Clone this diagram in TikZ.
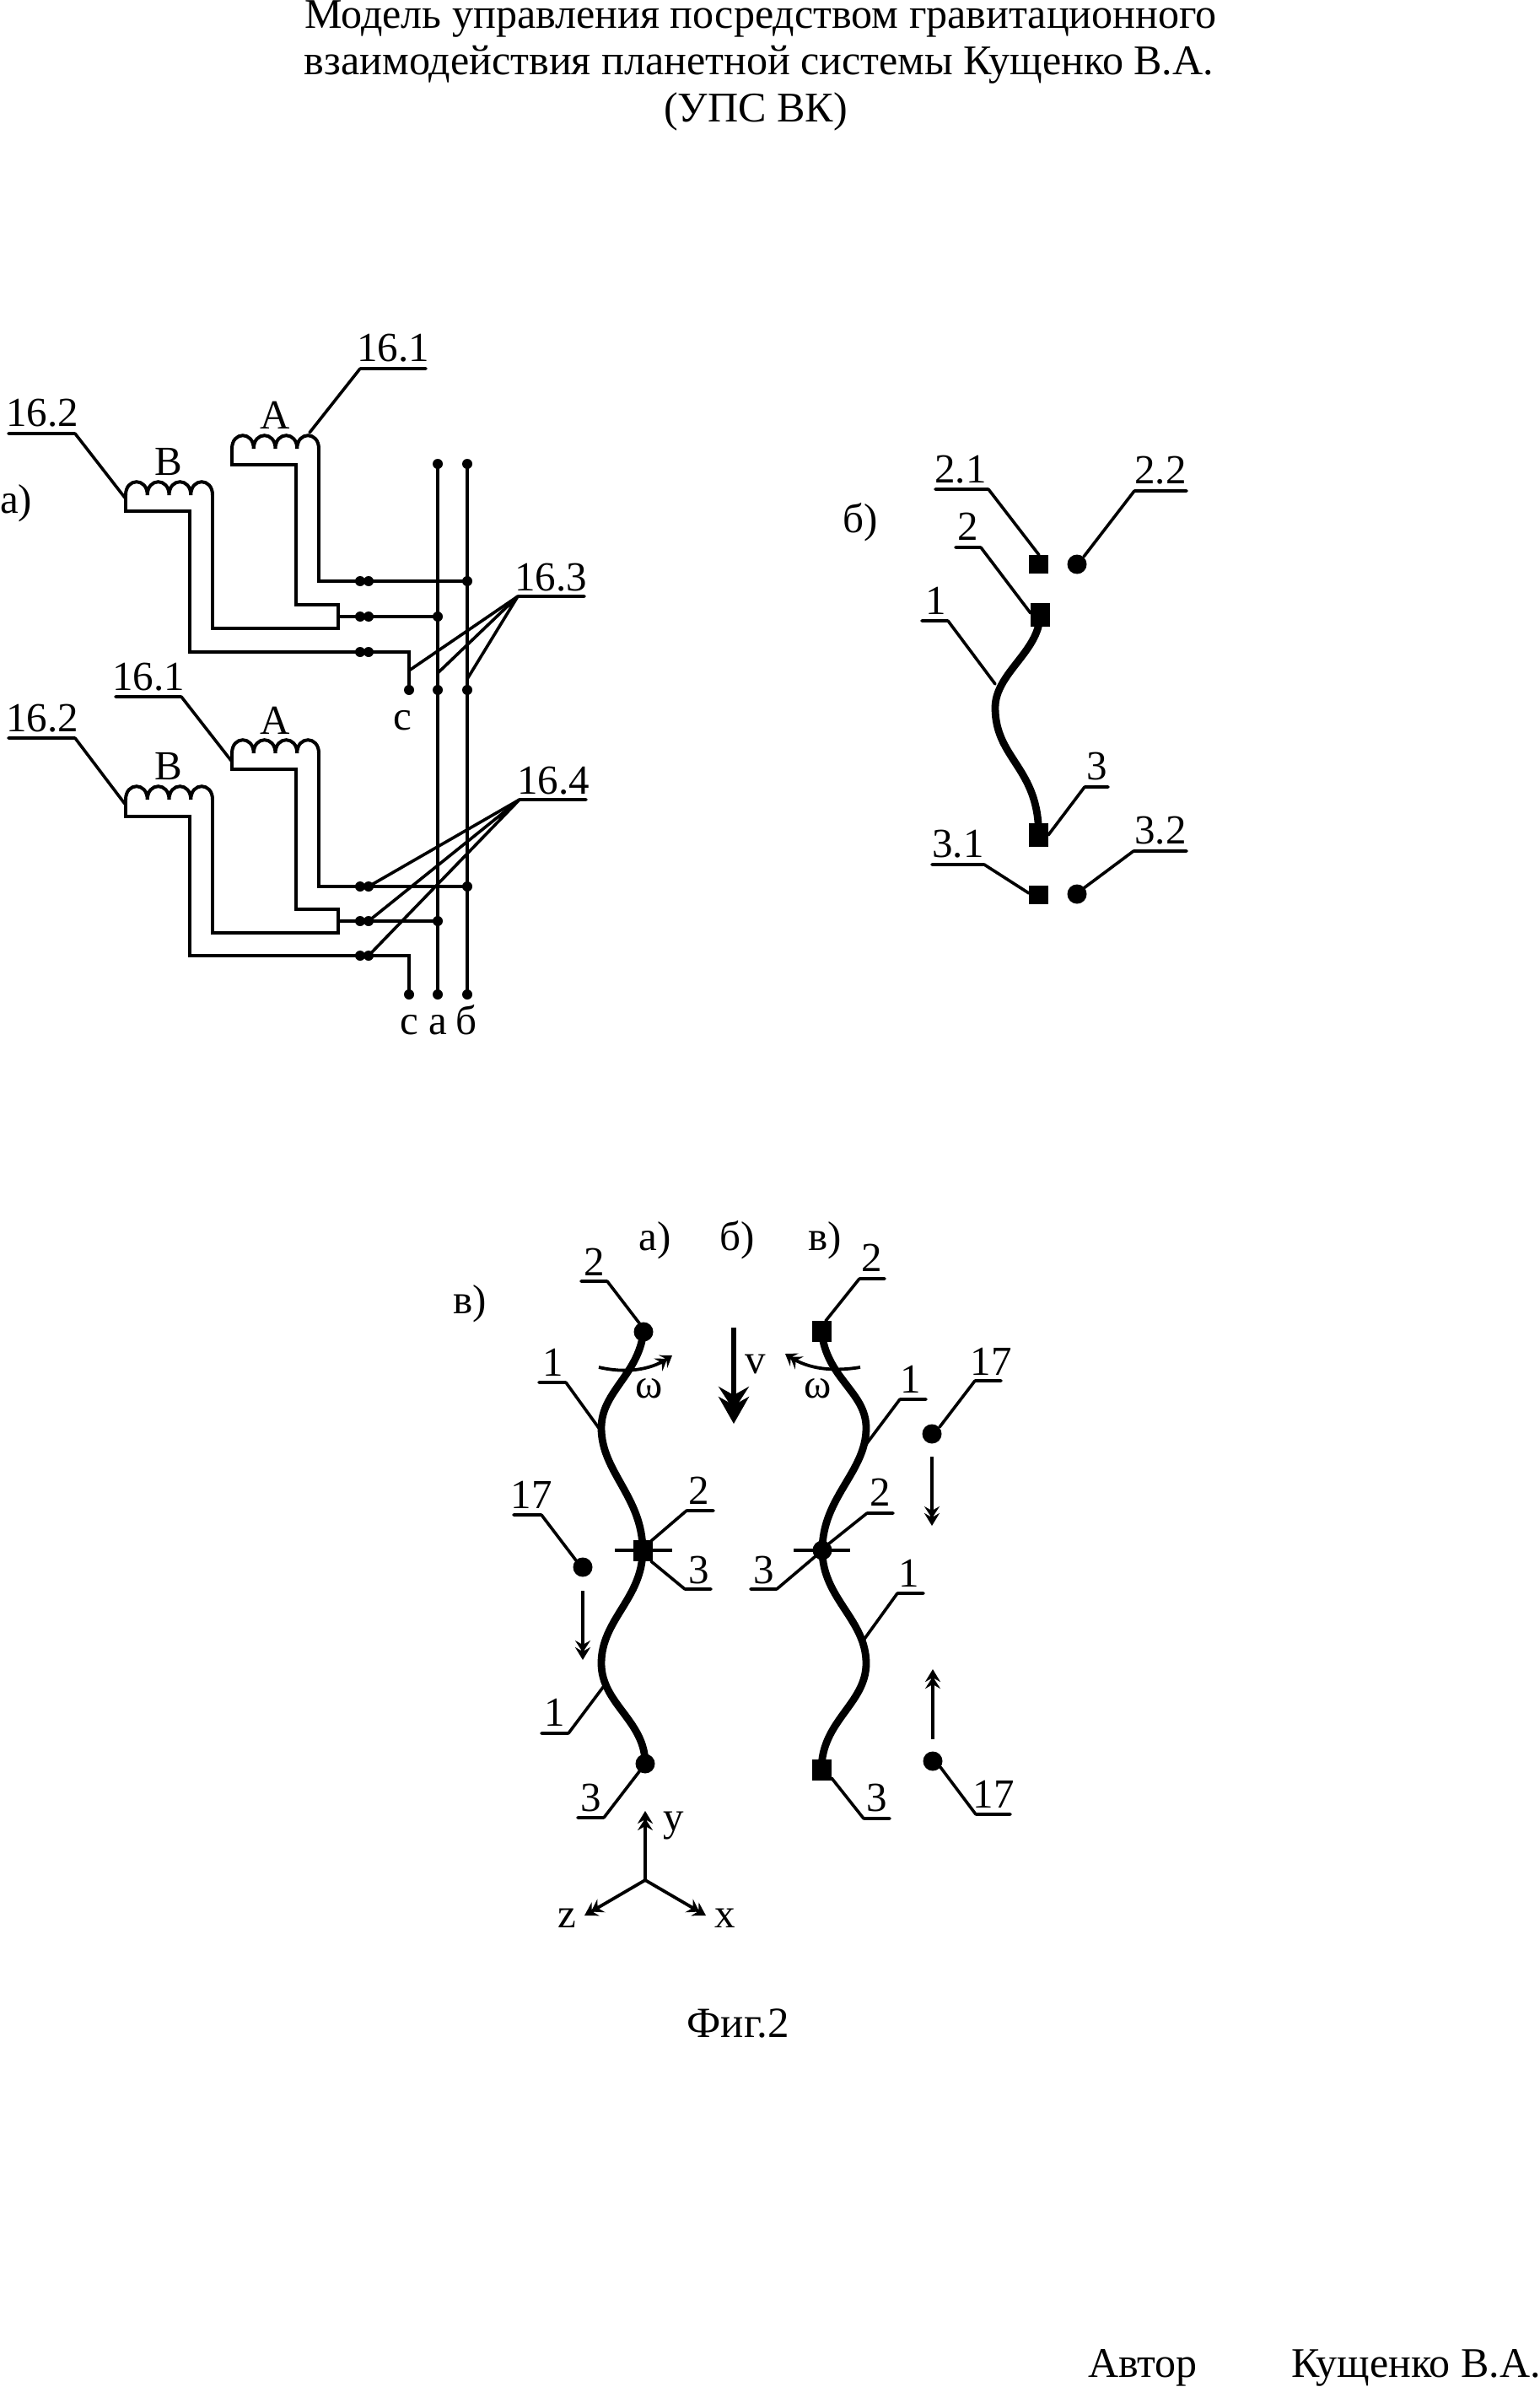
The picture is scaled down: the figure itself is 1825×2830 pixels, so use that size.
\documentclass[tikz,border=0pt]{standalone}
\usepackage{fontspec}
\setmainfont{Liberation Serif}
\usetikzlibrary{arrows.meta}
\tikzset{
  txt/.style={anchor=base,inner sep=0pt,outer sep=0pt,font=\fontsize{24.5pt}{28pt}\selectfont},
  bigtxt/.style={anchor=base,inner sep=0pt,outer sep=0pt,font=\fontsize{25.05pt}{28pt}\selectfont},
  foot/.style={anchor=base west,inner sep=0pt,outer sep=0pt,font=\fontsize{25pt}{28pt}\selectfont},
  wire/.style={line width=2pt,line join=miter},
  ldr/.style={line width=1.8pt,line cap=round},
  rope/.style={line width=4.4pt,line cap=butt},
  smalldot/.style={circle,fill=black,inner sep=0pt,minimum size=6pt},
  bigdot/.style={circle,fill=black,inner sep=0pt,minimum size=11.5pt},
  sqA/.style={rectangle,fill=black,inner sep=0pt,minimum width=11.5pt,minimum height=11pt},
  sqB/.style={rectangle,fill=black,inner sep=0pt,minimum width=11.5pt,minimum height=14pt},
  sqC/.style={rectangle,fill=black,inner sep=0pt,minimum width=11.5pt,minimum height=12.5pt},
  thinarrow/.style={line width=1.9pt,-{Stealth[length=7pt,width=9pt,inset=2.5pt,sep=-3pt]Stealth[length=7.5pt,width=9pt,inset=2.5pt]}},
  heavyarrow/.style={line width=3.2pt,-{Stealth[length=14pt,width=18pt,inset=5pt,sep=-8pt]Stealth[length=16pt,width=18pt,inset=5pt]}},
  omegaarrow/.style={line width=1.9pt,-{Stealth[length=6.5pt,width=9pt,inset=2.5pt,sep=-3pt]Stealth[length=6.5pt,width=9pt,inset=2.5pt]}},
  bar/.style={line width=1.9pt}
}
% #1 name, #2 x1, #3 x2, #4 y of underline, #5 text x, #6 baseline, #7 text, #8 leader end, #9 knee side a/b
\newcommand{\callout}[9]{%
  \coordinate (#1a) at (#2,#4);
  \coordinate (#1b) at (#3,#4);
  \coordinate (#1e) at (#8);
  \node[txt] (#1) at (#5,#6) {#7};
  \draw[ldr] (#1a) -- (#1b) (#1#9) -- (#1e);
}
% four-bump coil: #1 left x, #2 spring y
\newcommand{\coilpath}[2]{%
  \draw[wire] (#1,#2)
    .. controls (#1,#2-21) and (#1+25.75,#2-21) .. (#1+25.75,#2)
    .. controls (#1+25.75,#2-21) and (#1+51.5,#2-21) .. (#1+51.5,#2)
    .. controls (#1+51.5,#2-21) and (#1+77.25,#2-21) .. (#1+77.25,#2)
    .. controls (#1+77.25,#2-21) and (#1+103,#2-21) .. (#1+103,#2);
}
% winding group: #1 prefix, #2 spring A, #3 bottom A, #4 spring B, #5 bottom B, #6 y1, #7 y2, #8 y3, #9 c end
\newcommand{\winding}[9]{%
  \coilpath{275}{#2}
  \coilpath{149}{#4}
  \node[smalldot] (#1p1) at (427,#6) {};
  \node[smalldot] (#1q1) at (437,#6) {};
  \node[smalldot] (#1p2) at (427,#7) {};
  \node[smalldot] (#1q2) at (437,#7) {};
  \node[smalldot] (#1p3) at (427,#8) {};
  \node[smalldot] (#1q3) at (437,#8) {};
  \node[smalldot] (#1end) at (485,#9) {};
  \node[smalldot] (#1tb) at (554,#6) {};
  \node[smalldot] (#1ta) at (519,#7) {};
  \draw[wire] (378,#2) |- (#1tb.center);
  \draw[wire] (275,#2) -- (275,#3) -| (351,#7-14) -| (401,#7+14) -| (252,#4);
  \draw[wire] (401,#7) -- (#1ta.center);
  \draw[wire] (149,#4) -- (149,#5) -| (225,#8) -| (#1end.center);
}
\begin{document}
\begin{tikzpicture}[x=0.5pt,y=-0.5pt]
\useasboundingbox (0,0) rectangle (1825,2830);
% title
\node[bigtxt] (t1) at (902,34) {Модель управления посредством гравитационного};
\node[bigtxt] (t2) at (900,89) {взаимодействия планетной системы Кущенко В.А.};
\node[bigtxt] (t3) at (896,145) {(УПС ВК)};

% ---------- part a
\node[txt,anchor=base west] (la) at (0,608) {а)};
\winding{u}{532}{551}{587}{606}{689}{731}{773}{818}
\winding{w}{893}{912}{948}{968}{1051}{1092}{1133}{1179}
\node[smalldot] (abustop) at (519,550) {};
\node[smalldot] (bbustop) at (554,550) {};
\node[smalldot] (amid) at (519,818) {};
\node[smalldot] (bmid) at (554,818) {};
\node[smalldot] (abot) at (519,1179) {};
\node[smalldot] (bbot) at (554,1179) {};
\draw[wire] (abustop.center) -- (abot.center);
\draw[wire] (bbustop.center) -- (bbot.center);
\node[txt] (A1) at (326,509) {А};
\node[txt] (B1) at (200,563) {В};
\node[txt] (A2) at (326,870) {А};
\node[txt] (B2) at (200,924) {В};
\node[txt] (c1) at (477,865) {с};
\node[txt] (c2) at (485,1226) {с};
\node[txt] (a2) at (519,1226) {а};
\node[txt] (b2) at (553,1226) {б};
\callout{c161}{427}{505}{437}{466}{429}{16.1}{367,513}{a}
\callout{c162}{10}{89}{514}{50}{506}{16.2}{148,590}{b}
\callout{c361}{137}{215}{826}{176}{818}{16.1}{275,903}{b}
\callout{c362}{10}{89}{875}{50}{867}{16.2}{148,953}{b}
\callout{c163}{614}{693}{707}{653}{700}{16.3}{485,795}{a}
\coordinate (e163a) at (519,798);
\coordinate (e163b) at (554,805);
\draw[ldr] (c163a) -- (e163a) (c163a) -- (e163b);
\callout{c164}{616}{695}{948}{656}{941}{16.4}{437,1051}{a}
\draw[ldr] (c164a) -- (wq2.center) (c164a) -- (wq3.center);

% ---------- part b
\node[txt] (lb) at (1020,631) {б)};
\node[sqA] (s21) at (1231.5,669) {};
\node[bigdot] (o22) at (1277,669) {};
\node[sqB] (s2) at (1233,729) {};
\node[sqB] (s3) at (1231.5,990) {};
\node[sqA] (s31) at (1231.5,1061) {};
\node[bigdot] (o32) at (1277,1060) {};
\draw[rope] (s2.center) .. controls (1233,772) and (1180,798) .. (1180,839) .. controls (1180,900) and (1232,910) .. (s3.center);
\callout{c21}{1109}{1172}{580}{1139}{572}{2.1}{1232,658}{b}
\callout{c22}{1345}{1407}{582}{1376}{574}{2.2}{1285,660}{a}
\callout{c2}{1133}{1163}{649}{1148}{640}{2}{1222,727}{b}
\callout{c1b}{1093}{1124}{736}{1110}{728}{1}{1180,811}{b}
\callout{c3}{1286}{1314}{933}{1301}{924}{3}{1243,990}{a}
\callout{c31}{1105}{1167}{1025}{1136}{1016}{3.1}{1220,1059}{b}
\callout{c32}{1344}{1407}{1009}{1376}{1000}{3.2}{1285,1053}{a}

% ---------- part v
\node[txt] (lv0) at (557,1557) {в)};
\node[txt] (lha) at (777,1482) {а)};
\node[txt] (lhb) at (874,1482) {б)};
\node[txt] (lhv) at (978,1482) {в)};
\node[bigdot] (ltop) at (763,1579) {};
\node[sqC] (lmid) at (762,1838) {};
\node[bigdot] (lbot) at (765,2091) {};
\node[sqC] (rtop) at (974,1578) {};
\node[bigdot] (rmid) at (975,1838) {};
\node[sqC] (rbot) at (974,2098) {};
% ropes
\draw[rope] (ltop.center) .. controls (757,1630) and (713,1650) .. (713,1693) .. controls (713,1745) and (762,1775) .. (lmid.center) .. controls (762,1895) and (713,1920) .. (713,1972) .. controls (713,2020) and (765,2040) .. (lbot.center);
\draw[rope] (rtop.center) .. controls (980,1635) and (1027,1650) .. (1027,1693) .. controls (1027,1745) and (975,1775) .. (rmid.center) .. controls (975,1895) and (1027,1920) .. (1027,1972) .. controls (1027,2020) and (974,2040) .. (rbot.center);
\coordinate (lbarw) at (729,1838);
\coordinate (lbare) at (797,1838);
\coordinate (rbarw) at (941,1838);
\coordinate (rbare) at (1008,1838);
\draw[bar] (lbarw) -- (lbare);
\draw[bar] (rbarw) -- (rbare);
% omega arrows
\coordinate (wls) at (710,1621);
\coordinate (wle) at (797,1607);
\coordinate (wrs) at (1020,1621);
\coordinate (wre) at (931,1605);
\draw[omegaarrow] (wls) .. controls (740,1628) and (770,1625) .. (wle);
\draw[omegaarrow] (wrs) .. controls (990,1626) and (960,1624) .. (wre);
\node[txt] (om1) at (770,1657) {ω};
\node[txt] (om2) at (970,1657) {ω};
% velocity
\coordinate (vs) at (870,1574);
\coordinate (ve) at (870,1688);
\draw[heavyarrow] (vs) -- (ve);
\node[txt] (vv) at (896,1628) {v};
% labels
\callout{d2a}{689}{720}{1519}{705}{1512}{2}{759,1570}{b}
\callout{d1a}{639}{671}{1639}{656}{1631}{1}{710,1693}{b}
\callout{d17a}{609}{642}{1796}{630}{1788}{17}{683,1850}{b}
\callout{d2b}{814}{846}{1791}{829}{1783}{2}{772,1827}{a}
\callout{d3b}{812}{843}{1884}{829}{1877}{3}{772,1851}{a}
\callout{d1c}{642}{674}{2055}{658}{2046}{1}{716,1999}{b}
\callout{d3c}{685}{716}{2155}{701}{2147}{3}{759,2099}{b}
\callout{e2a}{1019}{1049}{1516}{1034}{1507}{2}{979,1566}{a}
\callout{e1a}{1067}{1098}{1659}{1080}{1651}{1}{1025,1715}{a}
\callout{e17a}{1156}{1187}{1637}{1175}{1630}{17}{1114,1692}{a}
\callout{e2b}{1028}{1059}{1794}{1044}{1785}{2}{983,1830}{a}
\callout{e3b}{890}{921}{1884}{906}{1877}{3}{967,1845}{b}
\callout{e1c}{1064}{1095}{1889}{1078}{1881}{1}{1025,1943}{a}
\callout{e3c}{1024}{1055}{2156}{1040}{2147}{3}{986,2108}{a}
\callout{e17c}{1157}{1198}{2151}{1178}{2143}{17}{1115,2095}{a}
% balls 17 and arrows
\node[bigdot] (b17a) at (691,1858) {};
\coordinate (b17as) at (691,1886);
\coordinate (b17ae) at (691,1968);
\draw[thinarrow] (b17as) -- (b17ae);
\node[bigdot] (b17b) at (1105,1700) {};
\coordinate (b17bs) at (1105,1727);
\coordinate (b17be) at (1105,1809);
\draw[thinarrow] (b17bs) -- (b17be);
\node[bigdot] (b17c) at (1106,2088) {};
\coordinate (b17cs) at (1106,2062);
\coordinate (b17ce) at (1106,1979);
\draw[thinarrow] (b17cs) -- (b17ce);
% axes
\coordinate (org) at (765,2229);
\coordinate (axy) at (765,2147);
\coordinate (axz) at (693,2271);
\coordinate (axx) at (837,2271);
\draw[thinarrow] (org) -- (axy);
\draw[thinarrow] (org) -- (axz);
\draw[thinarrow] (org) -- (axx);
\node[txt] (ly) at (799,2170) {y};
\node[txt] (lz) at (672,2285) {z};
\node[txt] (lx) at (860,2285) {x};

% footer
\node[txt,font=\fontsize{25.5pt}{28pt}\selectfont] (fig) at (875,2415) {Фиг.2};
\node[foot] (aut) at (1290,2818) {Автор};
\node[foot] (nam) at (1531,2818) {Кущенко В.А.};
\end{tikzpicture}
\end{document}
